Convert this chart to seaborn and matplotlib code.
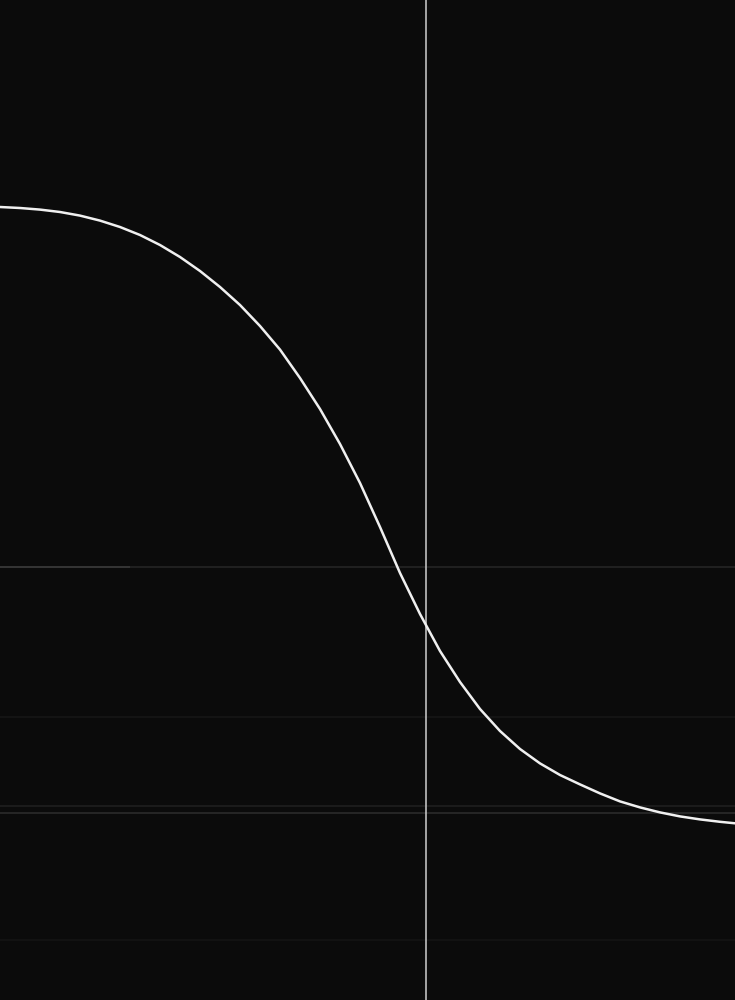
import matplotlib
matplotlib.use("Agg")
import matplotlib.pyplot as plt
import seaborn as sns
import pandas as pd

curve_x = [0, 20, 40, 60, 80, 100, 120, 140, 160, 180, 200, 220, 240, 260,
           280, 300, 320, 340, 360, 380, 400, 420, 440, 460, 480, 500, 520,
           540, 560, 580, 600, 620, 640, 660, 680, 700, 720, 735]
curve_y = [207, 208, 209.6, 212, 215.6, 220.6, 227, 235, 245, 257, 271, 287,
           305, 326, 349.6, 378, 409, 444, 483, 527, 573, 614, 651, 682, 709,
           731, 749, 763.4, 775, 784.4, 793.4, 801.4, 807.4, 812.4, 816.4,
           819.4, 821.8, 823.3]

marker_x = [426]
grid_y = [567, 717, 806, 813, 940]
grid_alpha = [0.18, 0.08, 0.14, 0.22, 0.06]
bright_seg = (567, 0, 130)

df = pd.DataFrame({"x": curve_x, "y": curve_y})

sns.set_style("dark")
bg = "#0b0b0b"
fig = plt.figure(figsize=(7.35, 10), dpi=100, facecolor=bg)
ax = fig.add_axes([0, 0, 1, 1])
ax.set_facecolor(bg)

for gy, ga in zip(grid_y, grid_alpha):
    ax.axhline(gy, color="#9a9a9a", lw=1.2, alpha=ga, zorder=1)
ax.hlines(bright_seg[0], bright_seg[1], bright_seg[2], color="#9a9a9a",
          lw=1.2, alpha=0.2, zorder=1)

for mx in marker_x:
    ax.axvline(mx, color="#d0d0d0", lw=1.1, zorder=2)

sns.lineplot(data=df, x="x", y="y", ax=ax, color="#f0f0f0", lw=1.8,
             zorder=3, legend=False)

ax.set_xlim(0, 735)
ax.set_ylim(1000, 0)
ax.set_axis_off()

fig.savefig("out.png", dpi=100, facecolor=bg)
